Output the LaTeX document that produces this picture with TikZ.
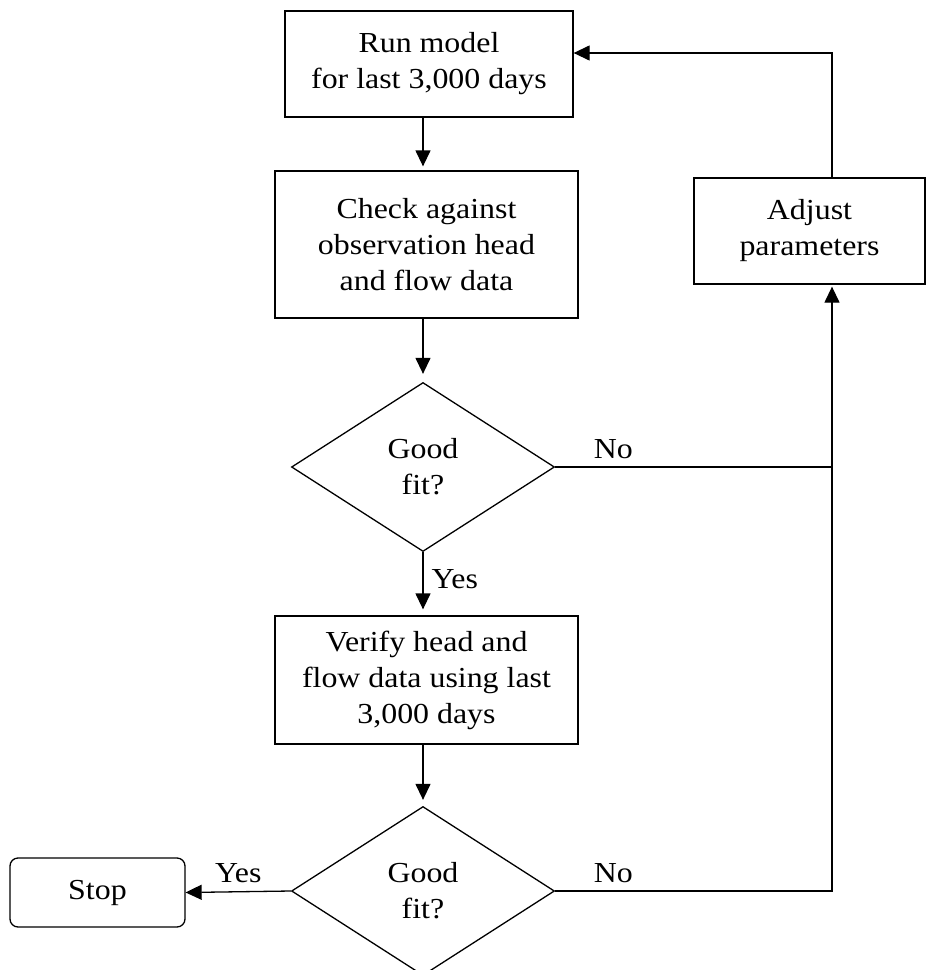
\documentclass[tikz,border=0pt]{standalone}
\usepackage{fontspec}
\setmainfont[FakeStretch=1.1]{Liberation Serif}
\usepackage{tikz}
\usetikzlibrary{shapes.geometric, positioning, arrows.meta, calc}
\tikzset{
  startstop/.style={rectangle, rounded corners=8pt, minimum width=175pt, minimum height=69pt, text centered, draw=black, line width=1.3pt},
  process/.style={rectangle, minimum height=106pt, inner sep=0pt, align=center, draw=black, line width=1.3pt},
  decision/.style={diamond, minimum width=263pt, minimum height=169pt, inner sep=0pt, align=center, draw=black, line width=1.3pt},
  lbl/.style={inner sep=8pt},
  arrow/.style={line width=1.3pt, -{Triangle[length=16pt, width=15pt]}}
}

\begin{document}
\begin{tikzpicture}[x=1pt, y=-1pt, font=\fontsize{29}{36}\selectfont]
    \useasboundingbox (0,0) rectangle (927,970);

    % 1. Cajas del lazo de calibracion
    \node[process, minimum width=288pt] (run) at (429,64) {Run model\\for last 3,000 days};
    \node[process, minimum width=303pt, minimum height=147pt] (check) at (426.5,244.5) {Check against\\observation head\\and flow data};
    \node[decision] (fit1) at (423,467) {Good\\fit?};
    \node[process, minimum width=303pt, minimum height=128pt] (verify) at (426.5,680) {Verify head and\\flow data using last\\3,000 days};
    \node[decision] (fit2) at (423,891) {Good\\fit?};
    \node[startstop] (stop) at (97.5,892.5) {Stop};
    \node[process, minimum width=231pt] (adjust) at (809.5,231) {Adjust\\parameters};

    % 2. Flechas verticales (con un pequeno hueco antes de la caja)
    \draw[arrow, shorten >=4pt] (run.south -| fit1) -- (check.north -| fit1);
    \draw[arrow, shorten >=8pt] (check.south -| fit1) -- (fit1.north);
    \draw[arrow, shorten >=6pt] (fit1.south) -- node[lbl, right, pos=0.42] {Yes} (verify.north -| fit1);
    \draw[arrow, shorten >=6pt] (verify.south -| fit1) -- (fit2.north);
    \draw[arrow] (fit2.west) -- node[lbl, above] {Yes} (stop.east);

    % 3. Retorno por la derecha
    \coordinate (rail) at (832,53);
    \draw[line width=1.3pt] (fit1.east) -- node[lbl, above, pos=0.21] {No} (fit1.east -| rail);
    \draw[arrow, shorten >=2pt] (fit2.east) -- node[lbl, above, pos=0.21] {No} (fit2.east -| rail) -- (adjust.south -| rail);
    \draw[arrow] (adjust.north -| rail) -- (rail) -- (run.east |- rail);

\end{tikzpicture}
\end{document}
